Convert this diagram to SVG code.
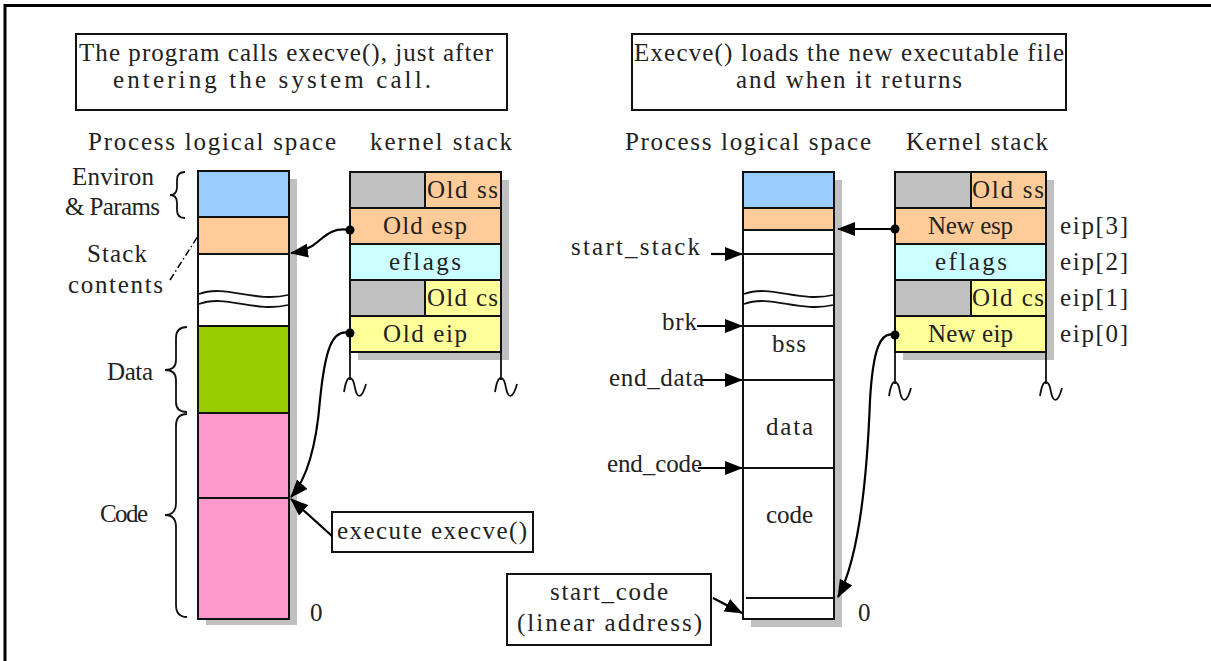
<svg xmlns="http://www.w3.org/2000/svg" width="1211" height="661" viewBox="0 0 1211 661">
<style>
text{font-family:"Liberation Serif","DejaVu Serif",serif;font-size:25px;fill:#222}
.box{stroke:#111;stroke-width:2}
.ln{stroke:#111;stroke-width:1.8;fill:none}
.sh{fill:#c0c0c0}
.blue{fill:#99ccff}.org{fill:#ffcc99}.grn{fill:#99cc00}.pink{fill:#ff99cc}.cyan{fill:#ccffff}.yel{fill:#ffff99}.gry{fill:#c0c0c0}.wh{fill:#fff}
.con{stroke:#000;stroke-width:2.2;fill:none}
</style>
<defs>
<marker id="ah" viewBox="0 0 18 14" refX="17" refY="7" markerWidth="18" markerHeight="14" markerUnits="userSpaceOnUse" orient="auto">
<path d="M0,0 L18,7 L0,14 z" fill="#000"/>
</marker>
</defs>
<rect width="1211" height="661" fill="#fff"/>
<path d="M5,661 V5.5 H1211" fill="none" stroke="#000" stroke-width="3"/>

<g id="title-left">
<rect x="76" y="34" width="431" height="76" fill="#fff" class="box"/>
<text x="79" y="61" textLength="414" lengthAdjust="spacing">The program calls execve(), just after</text>
<text x="113" y="88" textLength="318" lengthAdjust="spacing">entering the system call.</text>
</g>
<g id="title-right">
<rect x="632" y="34" width="434" height="76" fill="#fff" class="box"/>
<text x="634" y="61" textLength="430" lengthAdjust="spacing">Execve() loads the new executable file</text>
<text x="736" y="88" textLength="226" lengthAdjust="spacing">and when it returns</text>
</g>
<g id="headings">
<text x="88" y="150" textLength="248" lengthAdjust="spacing">Process logical space</text>
<text x="370" y="150" textLength="142" lengthAdjust="spacing">kernel stack</text>
<text x="625" y="150" textLength="246" lengthAdjust="spacing">Process logical space</text>
<text x="906" y="150" textLength="142" lengthAdjust="spacing">Kernel stack</text>
</g>

<g id="left-memory">
<rect x="206" y="179" width="91" height="446" class="sh"/>
<rect x="198" y="171" width="91" height="46" class="blue box"/>
<rect x="198" y="217" width="91" height="37" class="org box"/>
<rect x="198" y="254" width="91" height="72" class="wh box"/>
<rect x="198" y="326" width="91" height="87" class="grn box"/>
<rect x="198" y="413" width="91" height="85" class="pink box"/>
<rect x="198" y="498" width="91" height="121" class="pink box"/>
<path class="ln" d="M199,294 C225,284 255,303 288,295"/>
<path class="ln" d="M199,304 C225,294 255,313 288,305"/>
<text x="310" y="621">0</text>
</g>
<g id="left-labels">
<path class="ln" d="M185,172 Q177,172 177,180 L177,187 Q177,195 170,195 Q177,195 177,203 L177,210 Q177,218 185,218"/>
<path class="ln" d="M187,327 Q176,327 176,338 L176,360 Q176,370 165,370 Q176,370 176,380 L176,402 Q176,412 187,412"/>
<path class="ln" d="M187,414 Q176,414 176,426 L176,503 Q176,515 165,515 Q176,515 176,527 L176,605 Q176,617 187,617"/>
<path d="M170,280 L198,236" stroke="#000" stroke-width="1.5" stroke-dasharray="7,3,1.5,3" fill="none"/>
<text x="72" y="185" textLength="82" lengthAdjust="spacing">Environ</text>
<text x="65" y="215" textLength="95" lengthAdjust="spacing">&amp; Params</text>
<text x="87" y="262" textLength="60" lengthAdjust="spacing">Stack</text>
<text x="68" y="293" textLength="95" lengthAdjust="spacing">contents</text>
<text x="107" y="380" textLength="46" lengthAdjust="spacing">Data</text>
<text x="100" y="522" textLength="48" lengthAdjust="spacing">Code</text>
</g>

<g id="left-kernel-stack">
<rect x="358" y="180" width="151" height="180" class="sh"/>
<rect x="350" y="172" width="75" height="36" class="gry box"/>
<rect x="425" y="172" width="76" height="36" class="org box"/>
<rect x="350" y="208" width="151" height="36" class="org box"/>
<rect x="350" y="244" width="151" height="36" class="cyan box"/>
<rect x="350" y="280" width="75" height="36" class="gry box"/>
<rect x="425" y="280" width="76" height="36" class="yel box"/>
<rect x="350" y="316" width="151" height="36" class="yel box"/>
<path class="ln" d="M350,352 V380 M344,392 C347,372 353,376 355,388 C357,399 362,399 366,384"/>
<path class="ln" d="M501,352 V380 M495,392 C498,372 504,376 506,388 C508,399 513,399 517,384"/>
<text x="427" y="198" textLength="71" lengthAdjust="spacing">Old ss</text>
<text x="383" y="234" textLength="84" lengthAdjust="spacing">Old esp</text>
<text x="389" y="270" textLength="72" lengthAdjust="spacing">eflags</text>
<text x="427" y="306" textLength="71" lengthAdjust="spacing">Old cs</text>
<text x="383" y="342" textLength="84" lengthAdjust="spacing">Old eip</text>
</g>

<g id="execute-box">
<rect x="332" y="512" width="201" height="40" fill="#fff" class="box"/>
<text x="337" y="539" textLength="190" lengthAdjust="spacing">execute execve()</text>
</g>

<g id="right-memory">
<rect x="751" y="180" width="91" height="447" class="sh"/>
<rect x="743" y="172" width="91" height="36" class="blue box"/>
<rect x="743" y="208" width="91" height="22" class="org box"/>
<rect x="743" y="230" width="91" height="389" class="wh box"/>
<path class="ln" d="M743,254 H834 M743,326 H834 M743,380 H834 M743,468 H834 M746,598 H834"/>
<path class="ln" d="M744,294 C770,284 800,303 833,295"/>
<path class="ln" d="M744,304 C770,294 800,313 833,305"/>
<text x="772" y="352" textLength="34" lengthAdjust="spacing">bss</text>
<text x="766" y="435" textLength="47" lengthAdjust="spacing">data</text>
<text x="766" y="523" textLength="47" lengthAdjust="spacing">code</text>
<text x="858" y="621">0</text>
</g>
<g id="right-pointer-labels">
<text x="571" y="255" textLength="129" lengthAdjust="spacing">start_stack</text>
<text x="662" y="330" textLength="35" lengthAdjust="spacing">brk</text>
<text x="609" y="386" textLength="95" lengthAdjust="spacing">end_data</text>
<text x="607" y="472" textLength="95" lengthAdjust="spacing">end_code</text>
</g>
<g id="start-code-box">
<rect x="507" y="574" width="204" height="71" fill="#fff" class="box"/>
<text x="550" y="600" textLength="118" lengthAdjust="spacing">start_code</text>
<text x="517" y="631" textLength="185" lengthAdjust="spacing">(linear address)</text>
</g>

<g id="right-kernel-stack">
<rect x="903" y="180" width="151" height="180" class="sh"/>
<rect x="895" y="172" width="76" height="36" class="gry box"/>
<rect x="971" y="172" width="75" height="36" class="org box"/>
<rect x="895" y="208" width="151" height="36" class="org box"/>
<rect x="895" y="244" width="151" height="36" class="cyan box"/>
<rect x="895" y="280" width="76" height="36" class="gry box"/>
<rect x="971" y="280" width="75" height="36" class="yel box"/>
<rect x="895" y="316" width="151" height="36" class="yel box"/>
<path class="ln" d="M895,352 V384 M889,396 C892,376 898,380 900,392 C902,403 907,403 911,388"/>
<path class="ln" d="M1046,352 V384 M1040,396 C1043,376 1049,380 1051,392 C1053,403 1058,403 1062,388"/>
<text x="972" y="198" textLength="72" lengthAdjust="spacing">Old ss</text>
<text x="928" y="234" textLength="85" lengthAdjust="spacing">New esp</text>
<text x="935" y="270" textLength="72" lengthAdjust="spacing">eflags</text>
<text x="972" y="306" textLength="72" lengthAdjust="spacing">Old cs</text>
<text x="928" y="342" textLength="85" lengthAdjust="spacing">New eip</text>
<text x="1060" y="234" textLength="68" lengthAdjust="spacing">eip[3]</text>
<text x="1060" y="270" textLength="68" lengthAdjust="spacing">eip[2]</text>
<text x="1060" y="306" textLength="68" lengthAdjust="spacing">eip[1]</text>
<text x="1060" y="342" textLength="68" lengthAdjust="spacing">eip[0]</text>
</g>

<g id="connectors">
<path class="con" d="M350,230 C330,226 322,240 312,246 C305,250 298,252 291,253" marker-end="url(#ah)"/>
<path class="con" d="M350,333 C332,328 325,350 320,400 C316,450 306,480 291,497" marker-end="url(#ah)"/>
<path class="con" d="M332,536 L291,499" marker-end="url(#ah)"/>
<path class="con" d="M895,229 L838,229" marker-end="url(#ah)"/>
<path class="con" d="M895,335 C880,330 873,350 870,400 C867,480 858,560 838,597" marker-end="url(#ah)"/>
<path class="con" d="M711,254 L742,254" marker-end="url(#ah)"/>
<path class="con" d="M697,326 L742,326" marker-end="url(#ah)"/>
<path class="con" d="M702,380 L742,380" marker-end="url(#ah)"/>
<path class="con" d="M698,468 L742,468" marker-end="url(#ah)"/>
<path class="con" d="M713,598 L742,613" marker-end="url(#ah)"/>
<circle cx="350" cy="230" r="4.5" fill="#000"/>
<circle cx="350" cy="333" r="4.5" fill="#000"/>
<circle cx="895" cy="229" r="4.5" fill="#000"/>
<circle cx="895" cy="335" r="4.5" fill="#000"/>
</g>
</svg>
